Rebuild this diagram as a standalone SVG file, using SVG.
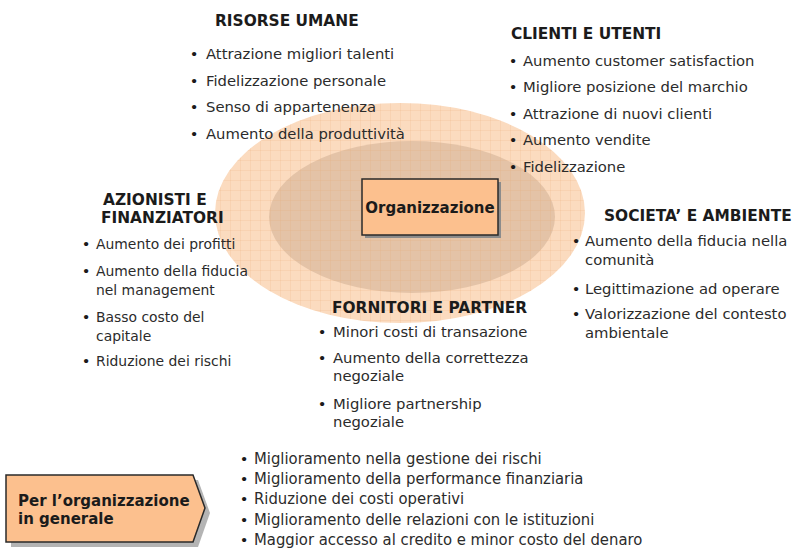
<svg xmlns="http://www.w3.org/2000/svg" width="793" height="549" viewBox="0 0 793 549">
  <defs>
    <style>
      .h { font-family: "DejaVu Sans", Verdana, sans-serif; font-weight: bold; font-size: 15.4px; fill: #1b1b1b; }
      .hb { font-family: "DejaVu Sans", Verdana, sans-serif; font-weight: bold; font-size: 15px; fill: #1b1b1b; }
      .t { font-family: "DejaVu Sans", Verdana, sans-serif; font-size: 14.8px; fill: #2b2b2b; }
      .ts { font-family: "DejaVu Sans", Verdana, sans-serif; font-size: 13.9px; fill: #2b2b2b; }
      .bl { font-family: "DejaVu Sans", Verdana, sans-serif; font-size: 14.8px; fill: #1b1b1b; text-anchor: middle; }
      .n { font-family: "DejaVu Sans", Verdana, sans-serif; font-size: 16.5px; fill: #2b2b2b; }
      .box { fill: #fcc08e; stroke: #2a2a2a; stroke-width: 1.5; }
    </style>
    <pattern id="grid" width="10" height="10" patternUnits="userSpaceOnUse">
      <path d="M0,0.5 H10 M0.5,0 V10" fill="none" stroke="#e8a46c" stroke-width="0.6" opacity="0.28"/>
    </pattern>
    <clipPath id="outerClip">
      <ellipse cx="400" cy="213" rx="185" ry="110"/>
    </clipPath>
  </defs>

  <rect width="793" height="549" fill="#ffffff"/>

  <!-- stakeholder rings around the organisation -->
  <g id="rings">
    <ellipse cx="400" cy="213" rx="185" ry="110" fill="#fbdbbf"/>
    <ellipse cx="412" cy="217" rx="143" ry="76" fill="#e4c3a7"/>
    <rect x="210" y="100" width="380" height="226" fill="url(#grid)" clip-path="url(#outerClip)"/>
  </g>

  <g id="connectors"/>

  <!-- central node -->
  <g id="organizzazione">
    <rect x="365" y="182" width="136" height="56" fill="#8c8c8c"/>
    <rect class="box" x="362" y="179" width="136" height="56"/>
    <text class="hb" x="430" y="213" text-anchor="middle">Organizzazione</text>
  </g>

  <g id="risorse-umane">
    <text class="h" x="215" y="26">RISORSE UMANE</text>
    <text class="bl" x="194" y="59">•</text>
    <text class="t" x="206" y="59">Attrazione migliori talenti</text>
    <text class="bl" x="194" y="85.5">•</text>
    <text class="t" x="206" y="85.5">Fidelizzazione personale</text>
    <text class="bl" x="194" y="112">•</text>
    <text class="t" x="206" y="112">Senso di appartenenza</text>
    <text class="bl" x="194" y="138.5">•</text>
    <text class="t" x="206" y="138.5">Aumento della produttività</text>
  </g>

  <g id="clienti-utenti">
    <text class="h" x="511" y="39">CLIENTI E UTENTI</text>
    <text class="bl" x="513" y="66">•</text>
    <text class="t" x="523" y="66">Aumento customer satisfaction</text>
    <text class="bl" x="513" y="92">•</text>
    <text class="t" x="523" y="92">Migliore posizione del marchio</text>
    <text class="bl" x="513" y="118.5">•</text>
    <text class="t" x="523" y="118.5">Attrazione di nuovi clienti</text>
    <text class="bl" x="513" y="145">•</text>
    <text class="t" x="523" y="145">Aumento vendite</text>
    <text class="bl" x="513" y="171.5">•</text>
    <text class="t" x="523" y="171.5">Fidelizzazione</text>
  </g>

  <g id="azionisti-finanziatori">
    <text class="h" x="103" y="205">AZIONISTI E</text>
    <text class="h" x="101" y="223">FINANZIATORI</text>
    <text class="bl" x="86" y="249">•</text>
    <text class="ts" x="96" y="249">Aumento dei profitti</text>
    <text class="bl" x="86" y="276">•</text>
    <text class="ts" x="96" y="276">Aumento della fiducia</text>
    <text class="ts" x="96" y="295">nel management</text>
    <text class="bl" x="86" y="322">•</text>
    <text class="ts" x="96" y="322">Basso costo del</text>
    <text class="ts" x="96" y="341">capitale</text>
    <text class="bl" x="86" y="366">•</text>
    <text class="ts" x="96" y="366">Riduzione dei rischi</text>
  </g>

  <g id="societa-ambiente">
    <text class="h" x="604" y="221">SOCIETA’ E AMBIENTE</text>
    <text class="bl" x="576" y="246">•</text>
    <text class="t" x="585" y="246">Aumento della fiducia nella</text>
    <text class="t" x="585" y="265">comunità</text>
    <text class="bl" x="576" y="294">•</text>
    <text class="t" x="585" y="294">Legittimazione ad operare</text>
    <text class="bl" x="576" y="319">•</text>
    <text class="t" x="585" y="319">Valorizzazione del contesto</text>
    <text class="t" x="585" y="338">ambientale</text>
  </g>

  <g id="fornitori-partner">
    <text class="h" x="332" y="313">FORNITORI E PARTNER</text>
    <text class="bl" x="322" y="337">•</text>
    <text class="t" x="333" y="337">Minori costi di transazione</text>
    <text class="bl" x="322" y="363">•</text>
    <text class="t" x="333" y="363">Aumento della correttezza</text>
    <text class="t" x="333" y="381">negoziale</text>
    <text class="bl" x="322" y="409">•</text>
    <text class="t" x="333" y="409">Migliore partnership</text>
    <text class="t" x="333" y="427">negoziale</text>
  </g>

  <!-- general benefits label -->
  <g id="organizzazione-generale">
    <path d="M11,480 H198 L210,513 L198,547 H11 Z" fill="#b4b4b4"/>
    <path class="box" d="M6,475 H193 L205,508 L193,542 H6 Z"/>
    <text class="hb" x="18" y="506">Per l’organizzazione</text>
    <text class="hb" x="18" y="524">in generale</text>
  </g>

  <g id="benefici-generali">
    <text class="bl" x="244" y="464">•</text>
    <text class="bl" x="244" y="484.2">•</text>
    <text class="bl" x="244" y="504.4">•</text>
    <text class="bl" x="244" y="524.6">•</text>
    <text class="bl" x="244" y="544.8">•</text>
    <g transform="translate(254,0) scale(0.9,1)">
      <text class="n" x="0" y="464">Miglioramento nella gestione dei rischi</text>
      <text class="n" x="0" y="484.2">Miglioramento della performance finanziaria</text>
      <text class="n" x="0" y="504.4">Riduzione dei costi operativi</text>
      <text class="n" x="0" y="524.6">Miglioramento delle relazioni con le istituzioni</text>
      <text class="n" x="0" y="544.8">Maggior accesso al credito e minor costo del denaro</text>
    </g>
  </g>
</svg>
